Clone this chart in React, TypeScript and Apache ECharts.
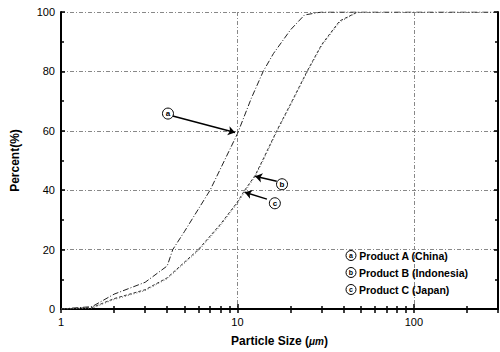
import React, { useEffect, useRef } from "react";
import * as echarts from "echarts";

const sizeA = [1, 1.5, 2, 3, 4, 4.3, 5, 7, 10, 12, 14, 16, 20, 24, 30, 300];
const pctA = [0, 0.8, 5, 9, 14.5, 20, 26, 40, 59, 71, 80, 86, 94, 99, 100, 100];
const sizeB = [1, 1.5, 2, 3, 4, 6, 8, 10, 11, 12.6, 14, 16.7, 20, 24.8, 30, 38, 48];
const pctB = [0, 0.5, 3.5, 6.5, 10.5, 20, 28.5, 36, 40, 45, 50.5, 60, 69, 80, 89, 97, 100];
const sizeC = [1, 1.5, 2, 3, 4, 6, 8, 10, 11, 12.6, 14, 16.7, 20, 25, 30, 38, 48];
const pctC = [0, 0.3, 3.2, 6.2, 10.2, 19.6, 28, 35.6, 39.4, 44.6, 50, 59.6, 68.6, 80, 88.6, 96.6, 100];
const seriesNames = ["Product A (China)", "Product B (Indonesia)", "Product C (Japan)"];
const letters = ["a", "b", "c"];
const majorTicks = [1, 10, 100];
const minorTicks = [2, 3, 4, 5, 6, 7, 8, 9, 20, 30, 40, 50, 60, 70, 80, 90, 200, 300];
// annotation anchors: [circle center], [arrow start], [arrow tip]
const annotCircle = [[4.04, 65.8], [17.9, 42], [16.3, 35.6]];
const annotStart = [[4.3, 65], [16.7, 43], [14.7, 37]];
const annotTip = [[9.7, 59.4], [12.6, 44.7], [11, 39.3]];

const FONT = "'Liberation Sans', Arial, sans-serif";

export default function App() {
  const ref = useRef<HTMLDivElement>(null);
  useEffect(() => {
    if (!ref.current) return;
    const chart = echarts.init(ref.current, null, { renderer: "svg" });
    const xs = [sizeA, sizeB, sizeC];
    const ys = [pctA, pctB, pctC];
    const styles = [
      { color: "#222", width: 1, type: [6, 2, 1, 2] },
      { color: "#333", width: 1, type: [3, 2] },
      { color: "#666", width: 1, type: [1, 2] },
    ];
    const series = seriesNames.map((name, i) => ({
      name,
      type: "line",
      xAxisIndex: 0,
      yAxisIndex: 0,
      showSymbol: false,
      symbol: "none",
      data: xs[i].map((x, j) => [x, ys[i][j]]),
      lineStyle: styles[i],
      itemStyle: { color: "#000" },
      markLine: {
        silent: true,
        symbol: ["none", "arrow"],
        symbolSize: 7,
        label: { show: false },
        lineStyle: { color: "#000", width: 1.5, type: "solid" },
        data: [[{ coord: annotStart[i] }, { coord: annotTip[i] }]],
      },
      markPoint: {
        silent: true,
        symbol: "circle",
        symbolSize: 11,
        itemStyle: { color: "#fff", borderColor: "#000", borderWidth: 1 },
        label: {
          show: true,
          position: "inside",
          formatter: letters[i],
          color: "#000",
          fontSize: 8,
          fontFamily: FONT,
          fontWeight: "bold",
        },
        data: [{ coord: annotCircle[i] }],
      },
    }));
    const axisLine = { show: true, lineStyle: { color: "#000", width: 2 } };
    const grid = "#888";
    chart.setOption({
      animation: false,
      backgroundColor: "#fff",
      grid: { left: 61, right: 2, top: 12, bottom: 42 },
      legend: {
        orient: "vertical",
        left: 336,
        top: 245,
        icon: "none",
        itemWidth: 0,
        itemHeight: 11,
        itemGap: 6,
        data: seriesNames,
        formatter: (name: string) => `{c|${letters[seriesNames.indexOf(name)]}} ${name}`,
        textStyle: {
          fontFamily: FONT,
          fontSize: 10.5,
          fontWeight: "bold",
          color: "#000",
          rich: {
            c: {
              width: 10,
              height: 10,
              lineHeight: 10,
              align: "center",
              borderColor: "#000",
              borderWidth: 1,
              borderRadius: 5,
              fontSize: 7,
              fontWeight: "bold",
              color: "#000",
            },
          },
        },
      },
      xAxis: [
        {
          type: "log",
          logBase: 10,
          min: 1,
          max: 300,
          position: "bottom",
          name: "Particle Size ({m|μm})",
          nameLocation: "middle",
          nameGap: 26,
          nameTextStyle: {
            fontFamily: FONT,
            fontSize: 12,
            fontWeight: "bold",
            color: "#000",
            rich: { m: { fontStyle: "italic", fontSize: 10, fontWeight: "bold", fontFamily: FONT } },
          },
          axisLine,
          axisTick: { show: true, inside: true, length: 5, lineStyle: { color: "#000", width: 1.5 } },
          axisLabel: {
            show: true,
            margin: 7,
            fontFamily: FONT,
            fontSize: 11,
            color: "#000",
            customValues: majorTicks,
          },
          splitLine: { show: true, lineStyle: { color: grid, width: 1, type: [4, 2, 1, 2] } },
        },
        {
          type: "log",
          logBase: 10,
          min: 1,
          max: 300,
          position: "top",
          axisLine,
          axisTick: {
            show: true,
            inside: true,
            length: 4,
            customValues: [...majorTicks, ...minorTicks],
            lineStyle: { color: "#000", width: 1.5 },
          },
          axisLabel: { show: false },
          splitLine: { show: false },
        },
        {
          type: "log",
          logBase: 10,
          min: 1,
          max: 300,
          position: "bottom",
          axisLine: { show: false },
          axisTick: {
            show: true,
            inside: true,
            length: 3,
            customValues: minorTicks,
            lineStyle: { color: "#000", width: 1.5 },
          },
          axisLabel: { show: false },
          splitLine: { show: false },
        },
      ],
      yAxis: [
        {
          type: "value",
          min: 0,
          max: 100,
          interval: 20,
          position: "left",
          name: "Percent(%)",
          nameLocation: "middle",
          nameGap: 40,
          nameTextStyle: { fontFamily: FONT, fontSize: 12, fontWeight: "bold", color: "#000" },
          axisLine,
          axisTick: { show: true, inside: true, length: 4, lineStyle: { color: "#000", width: 1.5 } },
          minorTick: { show: true, splitNumber: 2, length: 3, lineStyle: { color: "#000", width: 1.5 } },
          axisLabel: { margin: 6, fontFamily: FONT, fontSize: 11, color: "#000" },
          splitLine: { show: true, lineStyle: { color: grid, width: 1, type: [4, 2, 1, 2] } },
        },
        {
          type: "value",
          min: 0,
          max: 100,
          interval: 20,
          position: "right",
          axisLine,
          axisTick: { show: true, inside: true, length: 4, lineStyle: { color: "#000", width: 1.5 } },
          minorTick: { show: true, splitNumber: 2, length: 3, lineStyle: { color: "#000", width: 1.5 } },
          axisLabel: { show: false },
          splitLine: { show: false },
        },
      ],
      series,
    });
    return () => chart.dispose();
  }, []);
  return (
    <div
      ref={ref}
      style={{ position: "fixed", left: 0, top: 0, width: 500, height: 352, background: "#fff" }}
    />
  );
}
